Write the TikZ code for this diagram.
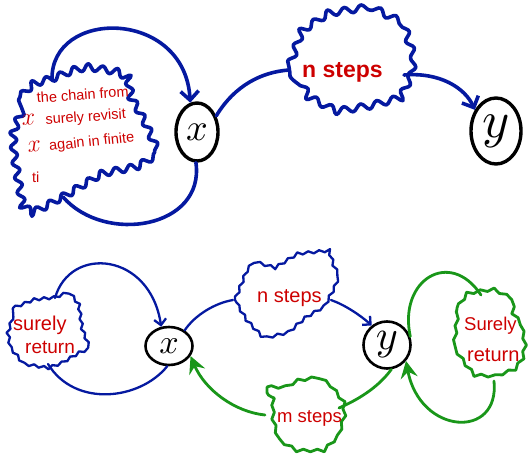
\documentclass[tikz,border=0pt]{standalone}
\usepackage{fontspec}
\setmainfont{Liberation Sans}
\usetikzlibrary{arrows.meta,shapes.geometric,decorations.pathmorphing}
\definecolor{ink}{RGB}{5,25,160}
\definecolor{redink}{RGB}{205,0,0}
\definecolor{greenink}{RGB}{25,150,25}
\newcommand{\hx}[1]{\scalebox{#1}{$x$}}
\newcommand{\hy}[1]{\scalebox{#1}{$y$}}

\begin{document}
\begin{tikzpicture}[x=1pt,y=-1pt, line cap=round, line join=round,
  state/.style={draw=black, ellipse, inner sep=0pt},
  note/.style={text=redink, inner sep=0pt, anchor=base west},
  bluethick/.style={draw=ink, line width=3.6pt},
  bluethin/.style={draw=ink, line width=2.3pt},
  greenline/.style={draw=greenink, line width=2.8pt},
  wavy/.style={decorate, decoration={snake, segment length=#1, amplitude=3.3pt}},
  bumpy/.style={decorate, decoration={snake, segment length=#1, amplitude=1.3pt}},
  openhead/.style={-{Straight Barb[length=9pt,width=18pt]}},
  smallhead/.style={-{Straight Barb[length=6pt,width=12pt]}},
  greenhead/.style={-{Stealth[length=17pt,width=17pt,inset=6pt]}}
]
\useasboundingbox (0,0) rectangle (528,455);

% ---------- upper chain ----------
\node[state, line width=3.4pt, minimum width=42pt, minimum height=58pt] (xt) at (197,132)
  {\hx{3.8}};
\node[state, line width=3.4pt, minimum width=50pt, minimum height=66pt] (yt) at (496,131)
  {\hy{5.2}};

% return cloud
\draw[bluethick, wavy=15pt] (20,97) -- (32,85) -- (50,80) -- (70,72) -- (90,68)
  -- (115,72) -- (130,80) -- (133,100) -- (142,115) -- (150,130) -- (160,153)
  -- (140,165) -- (100,173) -- (80,185) -- (67,193) -- (45,205) -- (30,212)
  -- (17,203) -- (13,180) -- (8,150) -- (7,127) -- (13,110) -- cycle;
\coordinate (ctop) at (52,80);
\coordinate (cbot) at (63,197);

\begin{scope}[font=\fontsize{14.5}{16}\selectfont]
\node[note, rotate=4] (t1) at (37,103) {the chain from};
\node[note, rotate=4] (t2) at (22,126) {\hx{1.7}\hspace{6pt} surely revisit};
\node[note, rotate=6] (t3) at (28,153) {\hx{1.7}\hspace{4pt} again in finite};
\node[note] (t4) at (32,182) {ti};
\end{scope}

% n-step cloud
\draw[bluethick, wavy=17pt] (289,67) -- (301,33) -- (331,13) -- (371,7) -- (397,20)
  -- (407,53) -- (404,73) -- (391,100) -- (364,107) -- (327,113) -- (301,100)
  -- (291,80) -- cycle;
\coordinate (nin) at (289,70);
\coordinate (nout) at (404,75);
\node[note, font=\fontsize{23}{26}\selectfont\bfseries] (ntop) at (302,77) {n steps};

\draw[bluethick, openhead] (ctop) .. controls (50,8) and (185,8) .. (xt.103);
\draw[bluethick] (xt.268) .. controls (205,228) and (105,245) .. (cbot);
\draw[bluethick] (xt.40) .. controls (235,85) and (262,72) .. (nin);
\draw[bluethick, openhead] (nout) .. controls (440,72) and (465,88) .. (yt.135);

% ---------- lower chain ----------
\node[state, line width=2.6pt, minimum width=47pt, minimum height=38pt] (xb) at (169,346)
  {\hx{3.4}};
\node[state, line width=2.6pt, minimum width=47pt, minimum height=47pt] (yb) at (387,345)
  {\hy{4.2}};

% surely return (x side)
\draw[bluethin, bumpy=10pt] (13,308) -- (33,300) -- (53,298) -- (67,293) -- (77,306)
  -- (80,328) -- (87,346) -- (77,350) -- (60,360) -- (47,365) -- (23,361)
  -- (10,345) -- (7,328) -- cycle;
\coordinate (ltop) at (55,298);
\coordinate (lbot) at (48,364);
\node[note, font=\fontsize{20}{22}\selectfont] (sl1) at (13,330) {surely};
\node[note, font=\fontsize{19}{22}\selectfont] (sl2) at (25,353) {return};

% n-step cloud (lower)
\draw[bluethin, bumpy=11pt] (235,300) -- (245,275) -- (253,264) -- (273,270) -- (297,255)
  -- (327,252) -- (332,268) -- (338,280) -- (334,292) -- (324,311) -- (307,321)
  -- (291,335) -- (271,340) -- (263,337) -- (247,320) -- cycle;
\coordinate (nbin) at (233,300);
\coordinate (nbout) at (331,300);
\node[note, font=\fontsize{20}{22}\selectfont] (nbot) at (257,302) {n steps};

% m-step cloud
\draw[greenline, bumpy=14pt] (267,387) -- (280,387) -- (293,380) -- (313,377) -- (327,387)
  -- (337,400) -- (338,420) -- (333,437) -- (317,453) -- (290,453) -- (273,443)
  -- (267,420) -- cycle;
\coordinate (min) at (265,415);
\coordinate (mout) at (339,408);
\node[note, font=\fontsize{18.5}{22}\selectfont] (mbot) at (277,422) {m steps};

% surely return (y side)
\draw[greenline, bumpy=14pt] (457,308) -- (464,298) -- (481,295) -- (497,293) -- (511,300)
  -- (511,315) -- (521,328) -- (524,345) -- (521,361) -- (511,375) -- (494,381)
  -- (471,380) -- (461,368) -- (452,355) -- (454,338) -- cycle;
\coordinate (rtop) at (481,295);
\coordinate (rbot) at (494,381);
\node[note, font=\fontsize{18.5}{22}\selectfont] (sr1) at (464,330) {Surely};
\node[note, font=\fontsize{20}{22}\selectfont] (sr2) at (467,361) {return};

\draw[bluethin, smallhead] (ltop) .. controls (70,245) and (150,252) .. (xb.112);
\draw[bluethin] (lbot) .. controls (75,408) and (140,400) .. (xb.265);
\draw[bluethin] (xb.45) .. controls (195,315) and (215,303) .. (nbin);
\draw[bluethin, smallhead] (nbout) .. controls (345,305) and (360,315) .. (yb.128);

\draw[greenline, greenhead] (min) .. controls (235,412) and (205,390) .. (xb.-25);
\draw[greenline] (mout) .. controls (362,398) and (380,385) .. (yb.-80);
\draw[greenline] (yb.20) .. controls (398,280) and (450,248) .. (rtop);
\draw[greenline, greenhead] (rbot) .. controls (500,440) and (420,435) .. (yb.-40);
\end{tikzpicture}
\end{document}
